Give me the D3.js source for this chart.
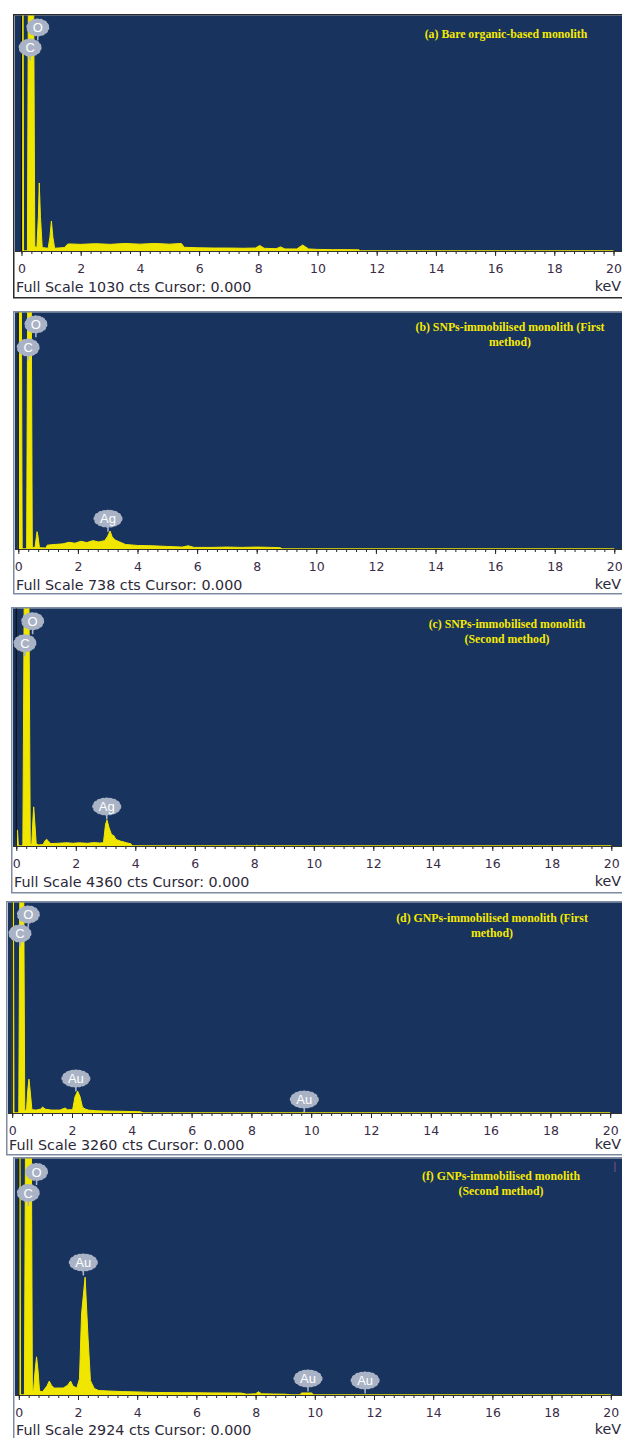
<!DOCTYPE html>
<html>
<head>
<meta charset="utf-8">
<script src="https://cdn.jsdelivr.net/npm/d3@7"></script>
<style>
  body { margin: 0; background: #fff; }
  svg { display: block; }
</style>
</head>
<body>
<div id="chart"></div>
<script>
// EDS spectra of five monolith samples, counts vs keV

var panelTitles = [
  ["(a) Bare organic-based monolith"],
  ["(b) SNPs-immobilised monolith (First", "method)"],
  ["(c) SNPs-immobilised monolith", "(Second method)"],
  ["(d) GNPs-immobilised monolith (First", "method)"],
  ["(f) GNPs-immobilised monolith", "(Second method)"]
];

var fullScale = [1030, 738, 4360, 3260, 2924];

var majorTicks = [0, 2, 4, 6, 8, 10, 12, 14, 16, 18, 20];

// [keV, counts] (values above full scale are clipped)
var specA = [[0,0],[0.01,1400],[0.05,1400],[0.07,0],[0.20,0],[0.24,1400],[0.40,1400],[0.45,20],
  [0.52,15],[0.57,150],[0.60,297],[0.64,150],[0.70,15],[0.90,12],[0.96,60],[1.01,131],[1.06,60],
  [1.12,12],[1.45,15],[1.55,29],[1.6,31],[2.0,29],[2.5,32],[3.0,29],[3.5,33],[4.0,30],[4.5,33],
  [5.0,30],[5.4,33],[5.5,16],[6.0,14],[6.5,13],[7.0,13],[7.5,12],[7.9,13],[8.05,24],[8.2,12],
  [8.6,10],[8.75,18],[8.9,9],[9.3,9],[9.5,26],[9.7,9],[10.0,7],[10.5,6],[11.0,6],[11.4,5],[11.45,0],[20,0]];

var specB = [[0,0],[0.01,900],[0.1,900],[0.13,0],[0.28,0],[0.32,900],[0.43,900],[0.47,5],[0.56,5],
  [0.61,40],[0.63,54],[0.66,40],[0.71,4],[0.93,3],[0.97,12],[1.2,14],[1.5,16],[1.7,21],[1.9,18],
  [2.1,24],[2.3,20],[2.5,26],[2.7,22],[2.9,26],[3.0,40],[3.08,56],[3.15,38],[3.25,28],[3.4,22],
  [3.6,14],[4.0,11],[4.5,10],[5.0,8],[5.5,6],[5.7,10],[5.9,5],[6.5,5],[7.0,6],[7.5,5],[8.0,6],
  [8.5,5],[8.8,4],[8.85,0],[20,0]];

var specC = [[0,0],[0.01,290],[0.04,290],[0.07,0],[0.22,0],[0.27,5000],[0.42,5000],[0.47,30],
  [0.52,40],[0.56,500],[0.585,717],[0.62,450],[0.67,40],[0.75,20],[0.9,25],[0.97,100],[1.02,122],
  [1.08,90],[1.15,45],[1.4,50],[1.7,60],[1.9,50],[2.1,58],[2.4,50],[2.6,62],[2.8,55],[2.93,60],
  [3.0,400],[3.05,474],[3.12,330],[3.2,210],[3.28,190],[3.35,120],[3.5,90],[3.7,60],[3.85,40],
  [3.9,0],[8.05,0],[8.08,20],[8.12,0],[20,0]];

var specD = [[0,0],[0.005,4000],[0.04,4000],[0.06,0],[0.22,0],[0.26,4000],[0.38,4000],[0.42,40],
  [0.48,50],[0.52,350],[0.56,523],[0.6,350],[0.66,50],[0.8,45],[0.95,60],[1.02,92],[1.1,60],
  [1.3,45],[1.6,45],[1.72,70],[1.77,77],[1.85,50],[2.02,50],[2.1,250],[2.19,338],[2.27,250],
  [2.35,90],[2.45,60],[2.55,45],[2.8,35],[3.1,30],[3.4,28],[3.7,26],[4.0,22],[4.3,18],[4.4,0],
  [9.7,0],[9.75,12],[9.8,0],[20,0]];

var specF = [[0,0],[0.01,3500],[0.04,3500],[0.06,0],[0.19,0],[0.23,3500],[0.42,3500],[0.46,60],
  [0.5,60],[0.55,300],[0.6,471],[0.65,300],[0.7,50],[0.8,40],[0.95,110],[1.03,172],[1.1,120],
  [1.2,86],[1.5,86],[1.65,120],[1.75,172],[1.83,110],[1.96,86],[2.05,200],[2.12,1000],[2.24,1454],
  [2.34,700],[2.42,180],[2.46,147],[2.55,80],[2.7,55],[3.0,50],[3.5,42],[4.0,38],[4.5,32],
  [5.0,30],[5.5,28],[6.0,28],[6.5,26],[7.0,25],[7.5,24],[7.7,10],[8.0,15],[8.1,40],[8.2,15],
  [8.6,12],[9.0,10],[9.2,0],[9.5,0],[9.55,25],[9.9,25],[9.95,0],[20,0]];

var spectra = [specA, specB, specC, specD, specF];

// peak markers: [element, keV, counts at the tip]
var labelsA = [["O",0.55,919],["C",0.29,831]];
var labelsB = [["O",0.59,659],["C",0.33,587],["Ag",3.01,54]];
var labelsC = [["O",0.55,3880],["C",0.29,3477],["Ag",3.04,485]];
var labelsD = [["O",0.54,2866],["C",0.26,2572],["Au",2.13,332],["Au",9.77,8]];
var labelsF = [["O",0.6,2591],["C",0.32,2332],["Au",2.18,1475],["Au",9.77,43],["Au",11.7,19]];
var peakLabels = [labelsA, labelsB, labelsC, labelsD, labelsF];

// where each screenshot sits on the page
var layout = [
  {left:13, top:14,   axisY:251,  bottom:297,  x0:21.5, k:29.6,  textY:292,  tx:506, ty:38,   border:"#2b2b2b"},
  {left:13, top:311,  axisY:549,  bottom:593,  x0:18.3, k:29.8,  textY:590,  tx:510, ty:331,  border:"#7f8ba3"},
  {left:11, top:607,  axisY:846,  bottom:892,  x0:16.3, k:29.75, textY:887,  tx:507, ty:628,  border:"#7f8ba3"},
  {left:6,  top:901,  axisY:1113, bottom:1154, x0:12.2, k:29.9,  textY:1150, tx:492, ty:922,  border:"#7f8ba3"},
  {left:13, top:1157, axisY:1395, bottom:1446, x0:18.8, k:29.6,  textY:1435, tx:501, ty:1180, border:"#7f8ba3"}
];

var W = 622, H = 1438;
var blue = "#17335e", yellow = "#f0e600";

var svg = d3.select("#chart").append("svg").attr("width", W).attr("height", H)
svg.append("rect").attr("width", W).attr("height", H).attr("fill", "#fff")

layout.forEach(function(L, i){
  var g = svg.append("g")

  var x = d3.scaleLinear().domain([0, 20]).range([L.x0, L.x0 + 20 * L.k])
  var y = d3.scaleLinear().domain([0, fullScale[i]]).range([L.axisY, L.top + 1])

  // frame + plot background
  g.append("rect")
    .attr("x", L.left + 0.75).attr("y", L.top + 0.75)
    .attr("width", W + 20).attr("height", L.bottom - L.top)
    .attr("fill", "#fff").attr("stroke", L.border).attr("stroke-width", 1.5)
  g.append("rect")
    .attr("x", L.left + 2).attr("y", L.top + 1.5)
    .attr("width", W - L.left).attr("height", L.axisY - L.top - 1.5)
    .attr("fill", blue)

  g.append("clipPath").attr("id", "clip" + i)
    .append("rect")
    .attr("x", L.left + 2).attr("y", L.top + 1.5)
    .attr("width", W - L.left).attr("height", L.axisY - L.top - 1.5)

  var area = d3.area()
    .x(function(d){ return x(d[0]); })
    .y0(y(0))
    .y1(function(d){ return y(d[1]); })

  var plot = g.append("g").attr("clip-path", "url(#clip" + i + ")")
  plot.append("path")
    .datum(spectra[i])
    .attr("d", area)
    .attr("fill", yellow)
    .attr("stroke", yellow)
    .attr("stroke-width", 1)
    .attr("stroke-linejoin", "round")

  // cursor at 0.000
  plot.append("line")
    .attr("x1", x(0)).attr("x2", x(0))
    .attr("y1", L.top).attr("y2", L.axisY)
    .attr("stroke", "#111").attr("stroke-width", 1.2)

  // minor ticks every 1/3 keV
  var minor = d3.range(0, 61).map(function(n){ return n / 3; })
  g.append("g")
    .attr("transform", "translate(0," + L.axisY + ")")
    .call(d3.axisBottom(x).tickValues(minor).tickSize(3).tickFormat(""))
    .call(function(a){ a.select(".domain").remove(); })
    .selectAll("line").attr("stroke", "#222")

  var ax = g.append("g")
    .attr("transform", "translate(0," + L.axisY + ")")
    .call(d3.axisBottom(x).tickValues(majorTicks).tickSize(5).tickSizeOuter(0).tickPadding(8)
      .tickFormat(d3.format("d")))
  ax.select(".domain").attr("stroke", "#333").attr("d", "M" + (L.left + 2) + ",0.5H" + W)
  ax.selectAll("line").attr("stroke", "#222")
  ax.selectAll("text")
    .attr("font-family", "DejaVu Sans, sans-serif")
    .attr("font-size", "12.5px")
    .attr("fill", "#3a2c48")

  g.append("text")
    .text("Full Scale " + fullScale[i] + " cts Cursor: 0.000")
    .attr("x", L.left + 3).attr("y", L.textY)
    .attr("font-family", "DejaVu Sans, sans-serif")
    .attr("font-size", "14.3px")
    .attr("fill", "#2b2838")

  g.append("text")
    .text("keV")
    .attr("x", W - 1).attr("y", L.textY - 1)
    .attr("text-anchor", "end")
    .attr("font-family", "DejaVu Sans, sans-serif")
    .attr("font-size", "14.3px")
    .attr("fill", "#2b2838")

  // title
  var t = g.append("text")
    .attr("x", L.tx).attr("y", L.ty)
    .attr("text-anchor", "middle")
    .attr("font-family", "Liberation Serif, Times New Roman, serif")
    .attr("font-weight", "bold")
    .attr("font-size", "11.8px")
    .attr("fill", "#f6ea00")
  panelTitles[i].forEach(function(line, j){
    t.append("tspan").attr("x", L.tx).attr("dy", j == 0 ? 0 : 14.5).text(line)
  })

  // peak bubbles
  var b = g.selectAll("g.bubble")
    .data(peakLabels[i])
    .enter()
    .append("g")
    .attr("class", "bubble")
    .attr("transform", function(d){ return "translate(" + x(d[1]) + "," + y(d[2]) + ")"; })

  b.append("line")
    .attr("x1", 0).attr("x2", 0).attr("y1", -5).attr("y2", 0)
    .attr("stroke", "#a9b3c5").attr("stroke-width", 1.6)
  b.append("ellipse")
    .attr("cx", 0).attr("cy", -13)
    .attr("rx", function(d){ return d[0].length > 1 ? 13 : 10; })
    .attr("ry", 7.5)
    .attr("fill", "#a9b3c5")
    .attr("stroke", "#a9b3c5")
    .attr("stroke-width", 3)
    .attr("stroke-dasharray", "1.5,2.5")
    .attr("stroke-linecap", "round")
  b.append("text")
    .text(function(d){ return d[0]; })
    .attr("x", 0).attr("y", -13)
    .attr("dy", "0.36em")
    .attr("text-anchor", "middle")
    .attr("font-family", "Liberation Sans, Arial, sans-serif")
    .attr("font-size", "13px")
    .attr("fill", "#fff")
})

// small stray mark at the top right of the last panel
svg.append("line")
  .attr("x1", 615).attr("x2", 615).attr("y1", 1162).attr("y2", 1172)
  .attr("stroke", "#8a4f86").attr("stroke-width", 1)
</script>
</body>
</html>
